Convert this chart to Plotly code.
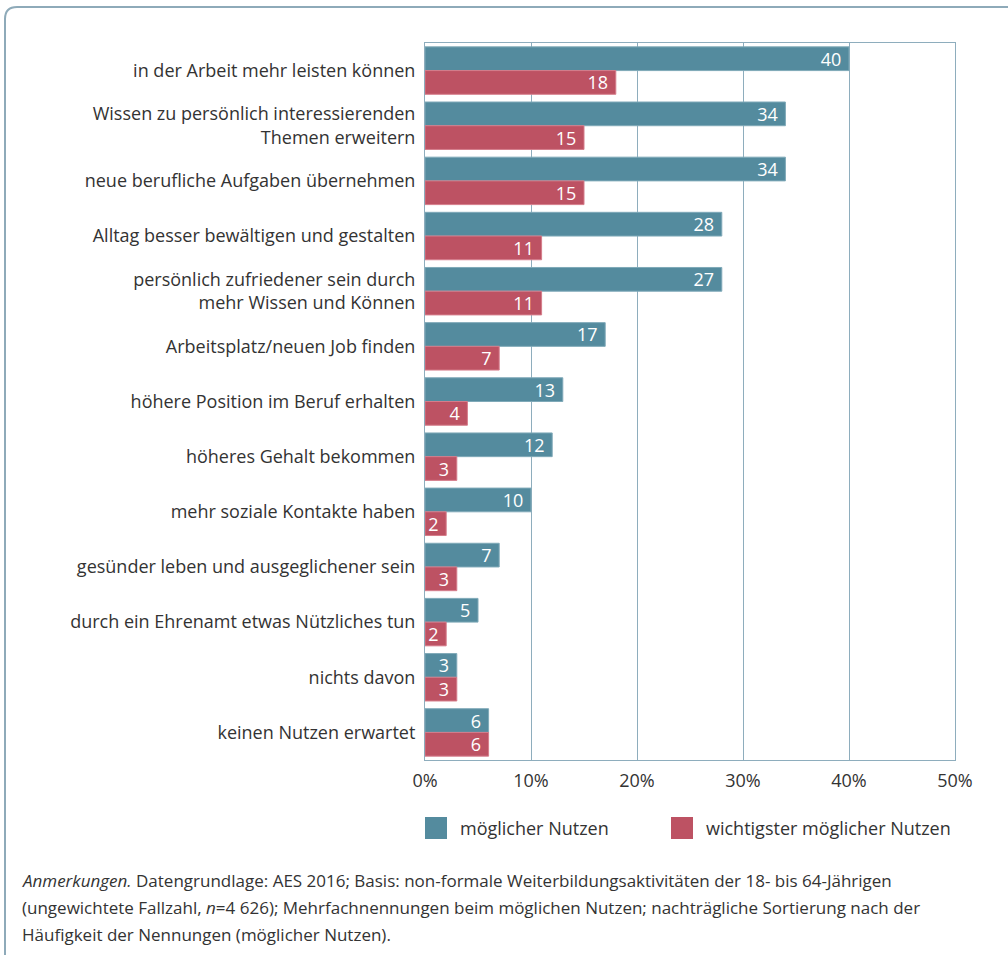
import plotly.graph_objects as go

categories = [
    "in der Arbeit mehr leisten können",
    "Wissen zu persönlich interessierenden<br>Themen erweitern",
    "neue berufliche Aufgaben übernehmen",
    "Alltag besser bewältigen und gestalten",
    "persönlich zufriedener sein durch<br>mehr Wissen und Können",
    "Arbeitsplatz/neuen Job finden",
    "höhere Position im Beruf erhalten",
    "höheres Gehalt bekommen",
    "mehr soziale Kontakte haben",
    "gesünder leben und ausgeglichener sein",
    "durch ein Ehrenamt etwas Nützliches tun",
    "nichts davon",
    "keinen Nutzen erwartet",
]
moeglich = [40, 34, 34, 28, 28, 17, 13, 12, 10, 7, 5, 3, 6]
moeglich_labels = [40, 34, 34, 28, 27, 17, 13, 12, 10, 7, 5, 3, 6]
wichtigst = [18, 15, 15, 11, 11, 7, 4, 3, 2, 3, 2, 3, 6]
series_names = ["möglicher Nutzen", "wichtigster möglicher Nutzen"]
x_ticks = [0, 10, 20, 30, 40, 50]
x_ticklabels = ["0%", "10%", "20%", "30%", "40%", "50%"]
note_lines = [
    "<i>Anmerkungen.</i> Datengrundlage: AES 2016; Basis: non-formale Weiterbildungsaktivitäten der 18- bis 64-Jährigen",
    "(ungewichtete Fallzahl, <i>n</i>=4 626); Mehrfachnennungen beim möglichen Nutzen; nachträgliche Sortierung nach der",
    "Häufigkeit der Nennungen (möglicher Nutzen).",
]

TEAL = "#548b9e"
RED = "#bd5263"
GRID = "#8eadbd"
TXT = "#333333"
FONT = "Open Sans"

W, H = 1008, 955
L, R, T, B = 425, 955, 43, 760

fig = go.Figure()
fig.add_trace(go.Bar(
    y=categories, x=moeglich, orientation="h", name=series_names[0],
    marker=dict(color=TEAL, line=dict(color="#7fa9b8", width=1)),
    text=[f"{v}\u00a0" for v in moeglich_labels], textposition="inside", textangle=0,
    insidetextanchor="end", textfont=dict(color="white", size=18, family=FONT),
    showlegend=False,
))
fig.add_trace(go.Bar(
    y=categories, x=wichtigst, orientation="h", name=series_names[1],
    marker=dict(color=RED, line=dict(color="#d57d8b", width=1)),
    text=[f"{v}\u00a0" for v in wichtigst], textposition="inside", textangle=0,
    insidetextanchor="end", textfont=dict(color="white", size=18, family=FONT),
    showlegend=False,
))

def px(x):
    return (x - L) / (R - L)

def py(y):
    return (B - y) / (B - T)

shapes = []
path = (f"M {px(1015)},{py(7)} L {px(17)},{py(7)} "
        f"Q {px(5)},{py(7)} {px(5)},{py(19)} L {px(5)},{py(965)}")
shapes.append(dict(type="path", xref="paper", yref="paper", path=path,
                   line=dict(color="#8eaab9", width=2), layer="above"))
shapes.append(dict(type="rect", xref="paper", yref="paper",
                   x0=px(425), x1=px(447), y0=py(817), y1=py(839),
                   fillcolor=TEAL, line=dict(width=0)))
shapes.append(dict(type="rect", xref="paper", yref="paper",
                   x0=px(671), x1=px(693), y0=py(817), y1=py(839),
                   fillcolor=RED, line=dict(width=0)))

annotations = [
    dict(xref="paper", yref="paper", x=px(458), y=py(828), xanchor="left",
         yanchor="middle", text=series_names[0], showarrow=False,
         font=dict(size=18, color=TXT, family=FONT)),
    dict(xref="paper", yref="paper", x=px(704), y=py(828), xanchor="left",
         yanchor="middle", text=series_names[1], showarrow=False,
         font=dict(size=18, color=TXT, family=FONT)),
]
for i, line in enumerate(note_lines):
    annotations.append(dict(
        xref="paper", yref="paper", x=px(20), y=py(880 + 27.5 * i),
        xanchor="left", yanchor="middle", align="left", showarrow=False,
        text=line, font=dict(size=17, color=TXT, family=FONT)))

fig.update_layout(
    width=W, height=H,
    margin=dict(l=L, r=W - R, t=T, b=H - B, pad=0),
    paper_bgcolor="white", plot_bgcolor="white",
    barmode="group", bargap=0.14, bargroupgap=0.0,
    font=dict(family=FONT, color=TXT, size=18),
    uniformtext=dict(mode="show", minsize=18),
    shapes=shapes, annotations=annotations,
)
fig.update_xaxes(
    range=[0, 50], tickvals=x_ticks, ticktext=x_ticklabels,
    showgrid=True, gridcolor=GRID, gridwidth=1,
    showline=True, linecolor=GRID, linewidth=1, mirror=True,
    ticks="outside", ticklen=4, tickcolor="rgba(0,0,0,0)",
    tickfont=dict(size=18, color=TXT), zeroline=False,
)
fig.update_yaxes(
    autorange="reversed", showgrid=False,
    showline=True, linecolor=GRID, linewidth=1, mirror=True,
    ticks="outside", ticklen=5, tickcolor="rgba(0,0,0,0)",
    tickfont=dict(size=18, color=TXT),
)

fig.write_html("out.html", config={"displayModeBar": False},
               post_script="document.body.style.margin='0px';")
